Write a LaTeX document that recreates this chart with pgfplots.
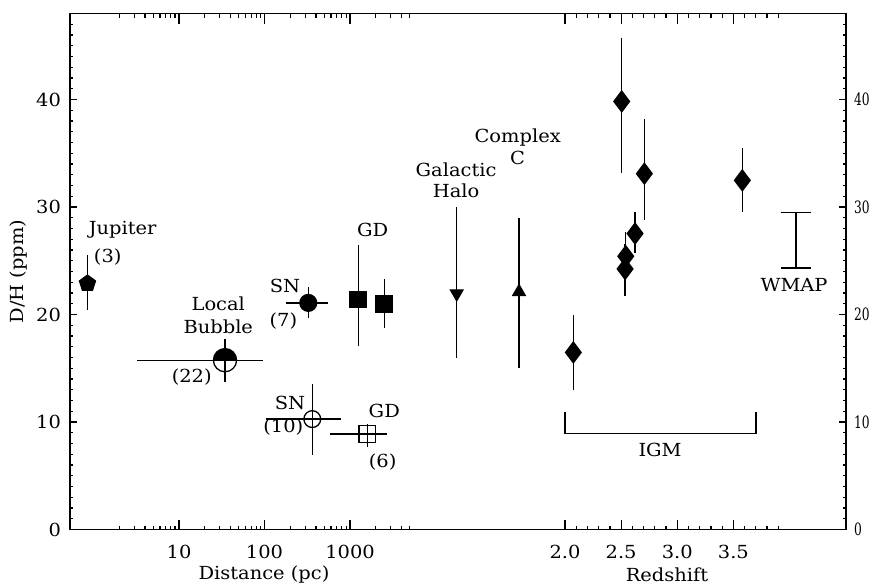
\documentclass[border=0pt]{standalone}
\usepackage{fontspec}
\setmainfont{DejaVu Serif}[FakeStretch=1.08]
\newfontfamily\narrowserif{DejaVu Serif}[FakeStretch=0.72]
\usepackage{pgfplots}
\pgfplotsset{compat=1.18}

\newcommand\lbl{\fontsize{9}{10.5}\selectfont}
\newcommand\rlbl{\narrowserif\fontsize{8.5}{9.5}\selectfont}

% circle with the upper half filled
\pgfdeclareplotmark{halfdisc}{%
  \pgfpathmoveto{\pgfqpoint{\pgfplotmarksize}{0pt}}%
  \pgfpatharc{0}{180}{\pgfplotmarksize}%
  \pgfpathclose
  \pgfusepathqfill
  \pgfpathcircle{\pgfpointorigin}{\pgfplotmarksize}%
  \pgfusepathqstroke
}

\tikzset{lab/.style={font=\lbl, inner sep=0pt}}

\pgfplotsset{
  dhbox/.style={scale only axis, width=388pt, height=258pt,
    at={(0,0)}, anchor=south west, ymin=0, ymax=48,
    axis line style={line width=0.7pt}, tick align=inside,
    tick style={black, line width=0.6pt},
    ticklabel style={font=\lbl}, clip=false},
  ebar/.style={line width=0.65pt, black,
    error bars/.cd, x dir=both, x explicit, y dir=both, y explicit,
    error mark=none, error bar style={black, line width=0.65pt}},
}

\begin{document}
\begin{tikzpicture}
\path[use as bounding box] (-35pt,-27.75pt) rectangle (402.5pt,264.75pt);

% left y ticks
\begin{axis}[dhbox, xmin=0, xmax=1, xtick=\empty,
  ytick={0,10,20,30,40}, yticklabels={0,10,20,30,40},
  minor ytick={1,...,47}, ytick pos=left,
  major tick length=3.5pt, minor tick length=1.7pt,
  yticklabel style={xshift=-1pt}]
\end{axis}

% right y ticks
\begin{axis}[dhbox, xmin=0, xmax=1, xtick=\empty,
  ytick={0,10,20,30,40}, yticklabels={0,10,20,30,40},
  minor ytick={1,...,47}, ytick pos=right, yticklabel pos=right,
  major tick length=3.5pt, minor tick length=1.7pt,
  yticklabel style={font=\rlbl, xshift=0.5pt}]
\end{axis}

% distance part
\begin{axis}[dhbox, xmode=log, xmin=0.531, xmax=6.32e8, ytick=\empty,
  xtick={10,100,1000}, xticklabels={10,100,1000},
  minor xtick={2,...,9,20,30,...,90,200,300,...,900,2000,3000,4000,5000},
  major tick length=5pt, minor tick length=2pt,
  xticklabel style={yshift=-4.5pt}]
\addplot[only marks, mark=pentagon*, mark size=4.2pt, ebar]
  coordinates {(0.85,22.88) += (0,2.7) -= (0,2.5)};
\addplot[only marks, mark=halfdisc, mark size=5.8pt, ebar]
  coordinates {(34.5,15.75) += (60.8,2.0) -= (31.3,2.0)};
\addplot[only marks, mark=*, mark size=4.2pt, ebar]
  coordinates {(325,21.08) += (223,1.48) -= (147,1.45)};
\addplot[only marks, mark=o, mark size=4.2pt, ebar]
  coordinates {(362,10.27) += (423,3.3) -= (258,3.35)};
\addplot[only marks, mark=square*, mark size=4.1pt, ebar]
  coordinates {(1250,21.39) += (0,5.1) -= (0,4.3)
               (2520,20.96) += (0,2.3) -= (0,2.26)};
\addplot[only marks, mark=square, mark size=4.2pt, ebar]
  coordinates {(1592,8.88) += (1138,0.9) -= (1009,1.18)};
\addplot[only marks, mark=triangle*, mark size=3.6pt,
  mark options={rotate=180}, ebar]
  coordinates {(17700,21.95) += (0,8.05) -= (0,6.04)};
\addplot[only marks, mark=triangle*, mark size=3.6pt, ebar]
  coordinates {(94800,22.1) += (0,6.9) -= (0,7.1)};

\node[lab] at (axis cs:2.195,27.9) {Jupiter};
\node[lab] at (axis cs:1.466,25.35) {(3)};
\node[lab] at (axis cs:28.8,20.96) {Local};
\node[lab] at (axis cs:28.8,18.9) {Bubble};
\node[lab] at (axis cs:14.08,14.2) {(22)};
\node[lab] at (axis cs:174,22.63) {SN};
\node[lab] at (axis cs:166,19.38) {(7)};
\node[lab] at (axis cs:1841,27.9) {GD};
\node[lab] at (axis cs:198.6,11.73) {SN};
\node[lab] at (axis cs:166,9.55) {(10)};
\node[lab] at (axis cs:2518,11.0) {GD};
\node[lab] at (axis cs:2410,6.3) {(6)};
\node[lab] at (axis cs:17400,33.5) {Galactic};
\node[lab] at (axis cs:17400,31.55) {Halo};
\node[lab] at (axis cs:91400,36.5) {Complex};
\node[lab] at (axis cs:91400,34.6) {C};

\node[lab] at (rel axis cs:0.25,-0.088) {Distance (pc)};
\node[lab, rotate=90] at (rel axis cs:-0.0657,0.5) {D/H (ppm)};
\end{axis}

% redshift part
\begin{axis}[dhbox, xmin=-2.412, xmax=4.504, ytick=\empty,
  xtick={2,2.5,3,3.5}, xticklabels={2.0,2.5,3.0,3.5},
  minor xtick={2.1,2.2,2.3,2.4,2.6,2.7,2.8,2.9,3.1,3.2,3.3,3.4,3.6,3.7,3.8,3.9},
  major tick length=5pt, minor tick length=2pt,
  xticklabel style={yshift=-4.5pt}]
\addplot[only marks, mark=diamond*, mark size=5.2pt, ebar] coordinates {
  (2.505,39.82) += (0,5.9) -= (0,6.7)
  (2.707,33.10) += (0,5.05) -= (0,4.3)
  (3.580,32.48) += (0,3.04) -= (0,2.98)
  (2.624,27.53) += (0,1.98) -= (0,1.83)
  (2.541,25.42) += (0,2.3) -= (0,2.3)
  (2.535,24.24) += (0,2.3) -= (0,2.49)
  (2.074,16.47) += (0,3.46) -= (0,3.49)
};
% WMAP range
\addplot[black, line width=0.65pt] coordinates {(3.922,29.5) (4.190,29.5)};
\addplot[black, line width=0.65pt] coordinates {(4.059,29.5) (4.059,24.33)};
\addplot[black, line width=0.65pt] coordinates {(3.922,24.33) (4.190,24.33)};
% IGM bracket
\addplot[black, line width=0.65pt] coordinates {(2.0,10.95) (2.0,8.94) (3.702,8.94) (3.702,10.95)};

\node[lab] at (axis cs:2.847,7.39) {IGM};
\node[lab] at (axis cs:4.041,22.72) {WMAP};
\node[lab] at (rel axis cs:0.7693,-0.088) {Redshift};
\end{axis}
\end{tikzpicture}
\end{document}
